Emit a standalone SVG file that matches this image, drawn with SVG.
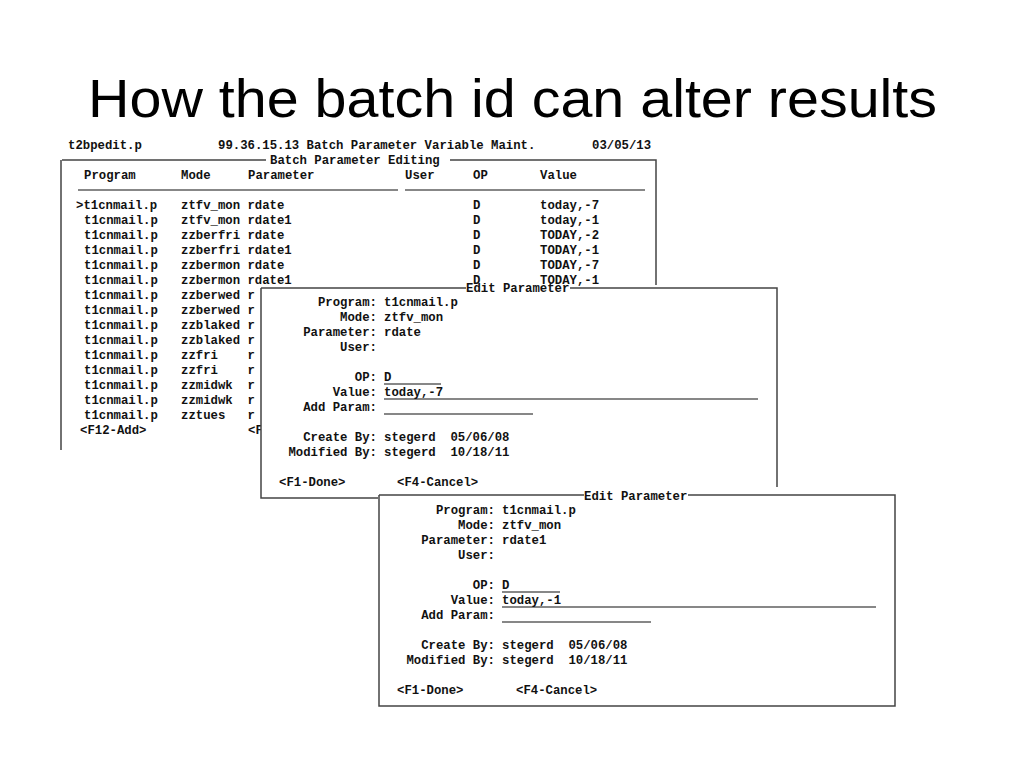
<svg xmlns="http://www.w3.org/2000/svg" width="1024" height="768" viewBox="0 0 1024 768">
<style>
.t{font-family:"Liberation Mono","DejaVu Sans Mono",monospace;font-size:12.3px;font-weight:bold;fill:#111;white-space:pre}
.r{text-anchor:end}
.b{stroke:#444;stroke-width:1.5;fill:none}
.u{stroke:#111;stroke-width:1.2}
</style>
<rect width="1024" height="768" fill="#fff"/>
<text x="88" y="117" font-family="'Liberation Sans',sans-serif" font-size="54" textLength="849" lengthAdjust="spacingAndGlyphs" fill="#000">How the batch id can alter results</text>
<g id="screen1">
<rect x="60" y="137" width="600" height="313" fill="#fff"/>
<path class="b" d="M61,160 V450 M62,160 H266 M450,160 H656 V285"/>
<text class="t" x="68" y="149">t2bpedit.p</text>
<text class="t" x="218" y="149">99.36.15.13 Batch Parameter Variable Maint.</text>
<text class="t" x="592" y="149">03/05/13</text>
<text class="t" x="270" y="164">Batch Parameter Editing</text>
<text class="t" x="84" y="179">Program</text><text class="t" x="181" y="179">Mode</text><text class="t" x="248" y="179">Parameter</text><text class="t" x="405" y="179">User</text><text class="t" x="473" y="179">OP</text><text class="t" x="540" y="179">Value</text>
<path class="u" d="M78,190 H398 M405,190 H645"/>
<text class="t" x="76" y="209">&gt;t1cnmail.p</text><text class="t" x="181" y="209">ztfv_mon rdate</text><text class="t" x="473" y="209">D</text><text class="t" x="540" y="209">today,-7</text>
<text class="t" x="84" y="224">t1cnmail.p</text><text class="t" x="181" y="224">ztfv_mon rdate1</text><text class="t" x="473" y="224">D</text><text class="t" x="540" y="224">today,-1</text>
<text class="t" x="84" y="239">t1cnmail.p</text><text class="t" x="181" y="239">zzberfri rdate</text><text class="t" x="473" y="239">D</text><text class="t" x="540" y="239">TODAY,-2</text>
<text class="t" x="84" y="254">t1cnmail.p</text><text class="t" x="181" y="254">zzberfri rdate1</text><text class="t" x="473" y="254">D</text><text class="t" x="540" y="254">TODAY,-1</text>
<text class="t" x="84" y="269">t1cnmail.p</text><text class="t" x="181" y="269">zzbermon rdate</text><text class="t" x="473" y="269">D</text><text class="t" x="540" y="269">TODAY,-7</text>
<text class="t" x="84" y="284">t1cnmail.p</text><text class="t" x="181" y="284">zzbermon rdate1</text><text class="t" x="473" y="284">D</text><text class="t" x="540" y="284">TODAY,-1</text>
<text class="t" x="84" y="299">t1cnmail.p</text><text class="t" x="181" y="299">zzberwed r</text>
<text class="t" x="84" y="314">t1cnmail.p</text><text class="t" x="181" y="314">zzberwed r</text>
<text class="t" x="84" y="329">t1cnmail.p</text><text class="t" x="181" y="329">zzblaked r</text>
<text class="t" x="84" y="344">t1cnmail.p</text><text class="t" x="181" y="344">zzblaked r</text>
<text class="t" x="84" y="359">t1cnmail.p</text><text class="t" x="181" y="359">zzfri    r</text>
<text class="t" x="84" y="374">t1cnmail.p</text><text class="t" x="181" y="374">zzfri    r</text>
<text class="t" x="84" y="389">t1cnmail.p</text><text class="t" x="181" y="389">zzmidwk  r</text>
<text class="t" x="84" y="404">t1cnmail.p</text><text class="t" x="181" y="404">zzmidwk  r</text>
<text class="t" x="84" y="419">t1cnmail.p</text><text class="t" x="181" y="419">zztues   r</text>
<text class="t" x="80" y="434">&lt;F12-Add&gt;</text><text class="t" x="248" y="434">&lt;F</text>
</g>
<g id="screen2">
<rect x="261" y="288" width="516" height="210" fill="#fff"/>
<path class="b" d="M261,288 H466 M570,288 H777 V487 M261,288 V498 H378"/>
<text class="t" x="466" y="292">Edit Parameter</text>
<text class="t r" x="377" y="306">Program:</text><text class="t" x="384" y="306">t1cnmail.p</text>
<text class="t r" x="377" y="321">Mode:</text><text class="t" x="384" y="321">ztfv_mon</text>
<text class="t r" x="377" y="336">Parameter:</text><text class="t" x="384" y="336">rdate</text>
<text class="t r" x="377" y="351">User:</text>
<text class="t r" x="377" y="381">OP:</text><text class="t" x="384" y="381">D</text>
<text class="t r" x="377" y="396">Value:</text><text class="t" x="384" y="396">today,-7</text>
<text class="t r" x="377" y="411">Add Param:</text>
<path class="u" d="M384,384 H441 M384,399 H758 M384,414 H533"/>
<text class="t r" x="377" y="441">Create By:</text><text class="t" x="384" y="441">stegerd  05/06/08</text>
<text class="t r" x="377" y="456">Modified By:</text><text class="t" x="384" y="456">stegerd  10/18/11</text>
<text class="t" x="279" y="486">&lt;F1-Done&gt;</text><text class="t" x="397" y="486">&lt;F4-Cancel&gt;</text>
</g>
<g id="screen3">
<rect x="379" y="495" width="516" height="211" fill="#fff"/>
<path class="b" d="M379,495 H584 M688,495 H895 V706 H379 V495"/>
<text class="t" x="584" y="500">Edit Parameter</text>
<text class="t r" x="495" y="514">Program:</text><text class="t" x="502" y="514">t1cnmail.p</text>
<text class="t r" x="495" y="529">Mode:</text><text class="t" x="502" y="529">ztfv_mon</text>
<text class="t r" x="495" y="544">Parameter:</text><text class="t" x="502" y="544">rdate1</text>
<text class="t r" x="495" y="559">User:</text>
<text class="t r" x="495" y="589">OP:</text><text class="t" x="502" y="589">D</text>
<text class="t r" x="495" y="604">Value:</text><text class="t" x="502" y="604">today,-1</text>
<text class="t r" x="495" y="619">Add Param:</text>
<path class="u" d="M502,592 H560 M502,607 H876 M502,622 H651"/>
<text class="t r" x="495" y="649">Create By:</text><text class="t" x="502" y="649">stegerd  05/06/08</text>
<text class="t r" x="495" y="664">Modified By:</text><text class="t" x="502" y="664">stegerd  10/18/11</text>
<text class="t" x="397" y="694">&lt;F1-Done&gt;</text><text class="t" x="516" y="694">&lt;F4-Cancel&gt;</text>
</g>
</svg>
